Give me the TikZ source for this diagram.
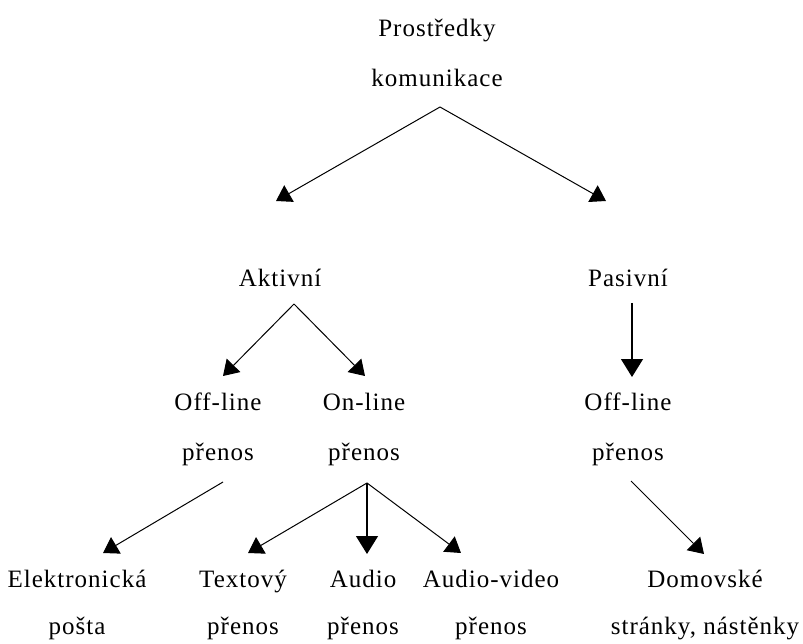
\documentclass[tikz,border=0pt]{standalone}
\usepackage{fontspec}
\setmainfont{Liberation Serif}[LetterSpace=4]
\usetikzlibrary{arrows.meta}
\begin{document}
\begin{tikzpicture}[x=1pt,y=-1pt,
  lbl/.style={anchor=base,inner sep=0pt,font=\fontsize{25}{28}\selectfont},
  conn/.style={line width=1pt,-{Triangle[length=15pt,width=19pt]}},
  bigconn/.style={line width=1.3pt,-{Triangle[length=18pt,width=22pt]}}]
\useasboundingbox (0,0) rectangle (803,644);
% texts
\node[lbl] (p1) at (437,37) {Prostředky};
\node[lbl] (p2) at (437,87) {komunikace};
\node[lbl] (akt) at (280,287) {Aktivní};
\node[lbl] (pas) at (628,287) {Pasivní};
\node[lbl] (offl1) at (218,410) {Off-line};
\node[lbl] (offl2) at (218,460) {přenos};
\node[lbl] (onl1) at (364,410) {On-line};
\node[lbl] (onl2) at (364,460) {přenos};
\node[lbl] (offr1) at (628,410) {Off-line};
\node[lbl] (offr2) at (628,460) {přenos};
\node[lbl] (el1) at (77,587) {Elektronická};
\node[lbl] (el2) at (77,634) {pošta};
\node[lbl] (tx1) at (243,587) {Textový};
\node[lbl] (tx2) at (243,634) {přenos};
\node[lbl] (au1) at (363,587) {Audio};
\node[lbl] (au2) at (363,634) {přenos};
\node[lbl] (av1) at (491,587) {Audio-video};
\node[lbl] (av2) at (491,634) {přenos};
\node[lbl] (do1) at (705,587) {Domovské};
\node[lbl] (do2) at (705,634) {stránky, nástěnky};
% connector points
\coordinate (rootS) at (440,107);
\coordinate (aktT) at (276,201);
\coordinate (pasT) at (606,201);
\coordinate (aktS) at (294,304);
\coordinate (offlT) at (223,376);
\coordinate (onlT) at (365,376);
\coordinate (pasS) at (632,303);
\coordinate (offrT) at (632,377);
\coordinate (offlS) at (223,482);
\coordinate (elT) at (103,553);
\coordinate (onlS) at (367,483);
\coordinate (txT) at (248,553);
\coordinate (auT) at (367,554);
\coordinate (avT) at (461,553);
\coordinate (offrS) at (631,481);
\coordinate (doT) at (704,554);
% connectors
\draw[conn] (rootS) -- (aktT);
\draw[conn] (rootS) -- (pasT);
\draw[conn] (aktS) -- (offlT);
\draw[conn] (aktS) -- (onlT);
\draw[bigconn] (pasS) -- (offrT);
\draw[conn] (offlS) -- (elT);
\draw[conn] (onlS) -- (txT);
\draw[bigconn] (onlS) -- (auT);
\draw[conn] (onlS) -- (avT);
\draw[conn] (offrS) -- (doT);
\end{tikzpicture}
\end{document}
